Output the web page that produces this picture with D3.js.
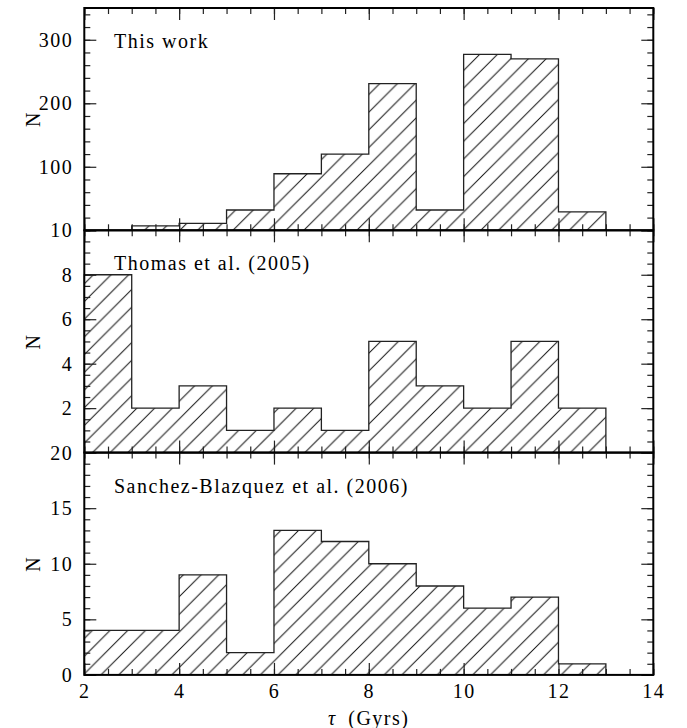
<!DOCTYPE html>
<html>
<head>
<meta charset="utf-8">
<script src="https://cdn.jsdelivr.net/npm/d3@7"></script>
<style>
  html, body { margin: 0; padding: 0; background: #fff; }
  svg { display: block; }
  text { font-family: "Liberation Serif", "DejaVu Serif", serif; fill: #000; letter-spacing: 1.5px; }
</style>
</head>
<body>
<svg id="chart" width="687" height="728"></svg>
<script>
// Age histograms, bins of 1 Gyr from 2 to 13 Gyr
const binEdges = [2, 3, 4, 5, 6, 7, 8, 9, 10, 11, 12, 13];
const thisWork = [0, 7, 11, 32, 89, 120, 231, 32, 277, 270, 29];
const thomas2005 = [8, 2, 3, 1, 2, 1, 5, 3, 2, 5, 2];
const sanchez2006 = [4, 4, 9, 2, 13, 12, 10, 8, 6, 7, 1];

const panelLabels = ["This work", "Thomas et al. (2005)", "Sanchez-Blazquez et al. (2006)"];
const yDomains = [[0, 350], [0, 10], [0, 20]];
const yMajorTicks = [[0, 100, 200, 300], [0, 2, 4, 6, 8, 10], [0, 5, 10, 15, 20]];
const yMinorSteps = [20, 0.5, 1];
const xDomain = [2, 14];
const xMajorTicks = [2, 4, 6, 8, 10, 12, 14];
const xMinorStep = 0.5;

const series = [thisWork, thomas2005, sanchez2006];

const svg = d3.select("#chart");
const plotLeft = 84.3, plotRight = 653.3, plotTop = 8, panelH = 222.3;
const majorLen = 12, minorLen = 6;
const hatchGap = 17.7;
const hatchPhase = [3.1, 14.1, 14.8];
const fontSize = 20;

const x = d3.scaleLinear().domain(xDomain).range([plotLeft, plotRight]);

const defs = svg.append("defs");
hatchPhase.forEach((ph, i) => {
  const p = defs.append("pattern")
    .attr("id", "hatch" + i)
    .attr("patternUnits", "userSpaceOnUse")
    .attr("x", ph).attr("y", 0)
    .attr("width", hatchGap).attr("height", hatchGap);
  const s = hatchGap;
  p.append("path")
    .attr("d", `M0,${s}L${s},0M-2,2L2,-2M${s - 2},${s + 2}L${s + 2},${s - 2}`)
    .attr("stroke", "#111").attr("stroke-width", 1).attr("fill", "none");
});

function stepRange(a, b, step) {
  const out = [];
  for (let v = a; v <= b + 1e-9; v += step) out.push(+v.toFixed(6));
  return out;
}

series.forEach((vals, i) => {
  const y0 = plotTop + (i + 1) * panelH, y1 = plotTop + i * panelH;
  const y = d3.scaleLinear().domain(yDomains[i]).range([y0, y1]);
  const g = svg.append("g");

  // step outline of the histogram
  const first = vals.findIndex(v => v > 0);
  const pts = [[binEdges[first], 0]];
  for (let k = first; k < vals.length; k++) {
    pts.push([binEdges[k], vals[k]]);
    pts.push([binEdges[k + 1], vals[k]]);
  }
  pts.push([binEdges[vals.length], 0]);
  const line = d3.line().x(d => x(d[0])).y(d => y(d[1]));

  g.append("path")
    .attr("d", line(pts) + "Z")
    .attr("fill", `url(#hatch${i})`)
    .attr("stroke", "none");
  g.append("path")
    .attr("d", line(pts))
    .attr("fill", "none")
    .attr("stroke", "#222")
    .attr("stroke-width", 1.3);

  // the zero of an upper panel shares its place with the top label of the panel below
  const isLast = i === series.length - 1;
  const yFmt = d => (d === 0 && !isLast) ? "" : d3.format("d")(d);

  // ticks, pointing inward on all four sides
  const yMinor = stepRange(yDomains[i][0], yDomains[i][1], yMinorSteps[i]);
  const xMinor = stepRange(xDomain[0], xDomain[1], xMinorStep);

  const axes = [
    [d3.axisLeft(y).tickValues(yMinor).tickSizeInner(-minorLen).tickSizeOuter(0).tickFormat(""), `translate(${plotLeft},0)`],
    [d3.axisLeft(y).tickValues(yMajorTicks[i]).tickSizeInner(-majorLen).tickSizeOuter(0).tickPadding(11).tickFormat(yFmt), `translate(${plotLeft},0)`],
    [d3.axisRight(y).tickValues(yMinor).tickSizeInner(-minorLen).tickSizeOuter(0).tickFormat(""), `translate(${plotRight},0)`],
    [d3.axisRight(y).tickValues(yMajorTicks[i]).tickSizeInner(-majorLen).tickSizeOuter(0).tickFormat(""), `translate(${plotRight},0)`],
    [d3.axisTop(x).tickValues(xMinor).tickSizeInner(-minorLen).tickSizeOuter(0).tickFormat(""), `translate(0,${y1})`],
    [d3.axisTop(x).tickValues(xMajorTicks).tickSizeInner(-majorLen).tickSizeOuter(0).tickFormat(""), `translate(0,${y1})`],
    [d3.axisBottom(x).tickValues(xMinor).tickSizeInner(-minorLen).tickSizeOuter(0).tickFormat(""), `translate(0,${y0})`],
    [d3.axisBottom(x).tickValues(xMajorTicks).tickSizeInner(-majorLen).tickSizeOuter(0).tickPadding(9)
      .tickFormat(isLast ? d3.format("d") : ""), `translate(0,${y0})`]
  ];
  axes.forEach(([ax, tr]) => {
    const a = g.append("g").attr("transform", tr).call(ax);
    a.select(".domain").remove();
    a.selectAll(".tick line").attr("stroke", "#222").attr("stroke-width", 1.2);
    a.selectAll(".tick text")
      .attr("font-family", '"Liberation Serif", serif')
      .attr("font-size", fontSize)
      .attr("fill", "#000");
  });

  // panel frame
  g.append("rect")
    .attr("x", plotLeft).attr("y", y1)
    .attr("width", plotRight - plotLeft).attr("height", y0 - y1)
    .attr("fill", "none").attr("stroke", "#000").attr("stroke-width", 2);

  // panel label
  g.append("text")
    .attr("x", 114).attr("y", y1 + 40)
    .attr("font-size", fontSize)
    .text(panelLabels[i]);

  // y-axis title
  g.append("text")
    .attr("transform", `translate(40,${(y0 + y1) / 2}) rotate(-90)`)
    .attr("text-anchor", "middle")
    .attr("font-size", fontSize)
    .text("N");
});

// x-axis title
const xt = svg.append("text")
  .attr("x", (plotLeft + plotRight) / 2).attr("y", 725)
  .attr("text-anchor", "middle")
  .attr("font-size", fontSize);
xt.append("tspan").attr("font-style", "italic").text("τ");
xt.append("tspan").text("\u2002(Gyrs)");
</script>
</body>
</html>
